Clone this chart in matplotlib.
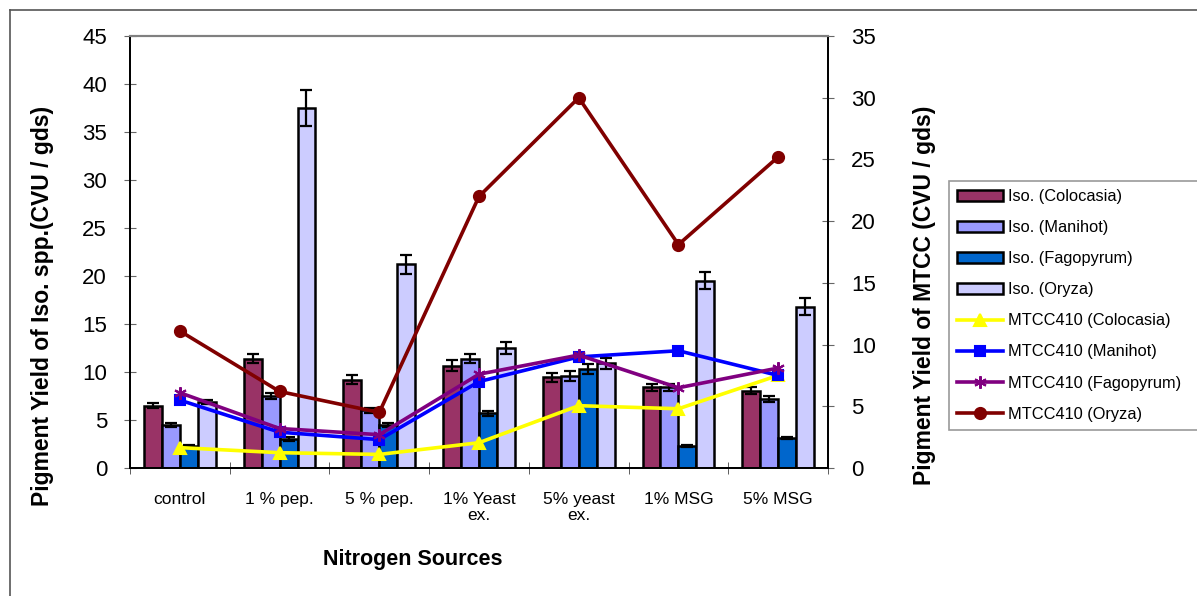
import numpy as np
import matplotlib
matplotlib.use("Agg")
import matplotlib.pyplot as plt
from matplotlib.lines import Line2D

plt.rcParams['font.family'] = ['Liberation Sans', 'DejaVu Sans']

# nitrogen sources (x categories)
sources = ['control', '1 % pep.', '5 % pep.', '1% Yeast\nex.', '5% yeast\nex.', '1% MSG', '5% MSG']

# isolates, left axis (bars) with SE
iso_colocasia = [6.5, 11.4, 9.2, 10.65, 9.45, 8.4, 8.05]
iso_manihot = [4.5, 7.5, 6.0, 11.4, 9.6, 8.4, 7.2]
iso_fagopyrum = [2.3, 3.0, 4.5, 5.7, 10.3, 2.3, 3.1]
iso_oryza = [6.9, 37.5, 21.2, 12.5, 10.9, 19.5, 16.8]
err_colocasia = [0.3, 0.5, 0.45, 0.55, 0.45, 0.35, 0.35]
err_manihot = [0.2, 0.35, 0.3, 0.5, 0.5, 0.35, 0.35]
err_fagopyrum = [0.1, 0.2, 0.2, 0.25, 0.5, 0.1, 0.1]
err_oryza = [0.2, 1.9, 1.0, 0.65, 0.55, 0.9, 0.9]

# MTCC410, right axis (lines)
mtcc_colocasia = [1.65, 1.24, 1.1, 2.05, 5.05, 4.8, 7.5]
mtcc_manihot = [5.5, 2.9, 2.3, 7.0, 9.0, 9.5, 7.5]
mtcc_fagopyrum = [6.1, 3.2, 2.7, 7.6, 9.15, 6.5, 8.1]
mtcc_oryza = [11.1, 6.2, 4.5, 22.0, 30.0, 18.1, 25.2]

W, H = 1197, 596
fig = plt.figure(figsize=(W / 100, H / 100), dpi=100)
ax = fig.add_axes([130 / W, 1 - 468 / H, 698 / W, 432 / H])
ax2 = ax.twinx()

x = np.arange(len(sources))
bw = 0.18
bars = [
    (iso_colocasia, err_colocasia, '#993366', 'Iso. (Colocasia)'),
    (iso_manihot, err_manihot, '#9999FF', 'Iso. (Manihot)'),
    (iso_fagopyrum, err_fagopyrum, '#0066CC', 'Iso. (Fagopyrum)'),
    (iso_oryza, err_oryza, '#CCCCFF', 'Iso. (Oryza)'),
]
handles = []
for i, (vals, errs, col, lab) in enumerate(bars):
    b = ax.bar(x + (i - 1.5) * bw, vals, bw, yerr=errs, color=col,
               edgecolor='black', linewidth=1.8, label=lab,
               error_kw=dict(ecolor='black', elinewidth=1.6, capsize=4, capthick=1.6))
    handles.append(b)

lines = [
    (mtcc_colocasia, '#FFFF00', '^', 'MTCC410 (Colocasia)', 8.5),
    (mtcc_manihot, '#0000FF', 's', 'MTCC410 (Manihot)', 7),
    (mtcc_fagopyrum, '#800080', (6, 2, 0), 'MTCC410 (Fagopyrum)', 9),
    (mtcc_oryza, '#800000', 'o', 'MTCC410 (Oryza)', 8),
]
for vals, col, mk, lab, ms in lines:
    l, = ax2.plot(x, vals, color=col, marker=mk, markersize=ms, linewidth=2.6,
                  markeredgecolor=col, markeredgewidth=1.5, label=lab)
    handles.append(l)

ax.set_xlim(-0.5, len(sources) - 0.5)
ax.set_ylim(0, 45)
ax2.set_ylim(0, 35)
ax.set_yticks(np.arange(0, 46, 5))
ax2.set_yticks(np.arange(0, 36, 5))

ax.set_xticks(x)
ax.set_xticklabels(sources, fontsize=12.5, multialignment='center', linespacing=1.15)
ax.set_xticks(np.arange(-0.5, len(sources), 1), minor=True)
ax.tick_params(axis='x', which='major', length=0, pad=17)
ax.tick_params(axis='x', which='minor', length=9, direction='inout', color='#444444')
ax.tick_params(axis='y', length=9, direction='inout', pad=12, labelsize=16, color='#666666')
ax2.tick_params(axis='y', length=9, direction='inout', pad=12, labelsize=16, color='#666666')

for a in (ax, ax2):
    a.spines['top'].set_color('#808080')
    a.spines['top'].set_linewidth(1.5)
    for s in ('left', 'right', 'bottom'):
        a.spines[s].set_linewidth(1.3)
        a.spines[s].set_color('black')

fig.text(43 / W, 1 - 306 / H, 'Pigment Yield of Iso. spp.(CVU / gds)', rotation=90,
         ha='center', va='center', fontsize=16.5, fontweight='bold')
fig.text(924 / W, 1 - 295 / H, 'Pigment Yield of MTCC (CVU / gds)', rotation=90,
         ha='center', va='center', fontsize=16.5, fontweight='bold')
fig.text(413 / W, 1 - 560 / H, 'Nitrogen Sources', ha='center', va='center',
         fontsize=15.5, fontweight='bold')

# legend box runs past the right edge of the figure
leg = fig.legend(handles=handles, loc='upper left',
                 bbox_to_anchor=(949 / W, 1 - 181 / H, 270 / W, 0), mode='expand',
                 fontsize=11.8, frameon=True, fancybox=False, edgecolor='#808080',
                 handlelength=2.8, handleheight=0.6, handletextpad=0.3,
                 labelspacing=0.98, borderpad=0.5, borderaxespad=0)
leg.get_frame().set_linewidth(1.2)

# outer chart border
fig.add_artist(Line2D([10 / W, 1], [1 - 10 / H, 1 - 10 / H], color='#555555', lw=1.2))
fig.add_artist(Line2D([10 / W, 10 / W], [0, 1 - 10 / H], color='#555555', lw=1.2))

fig.savefig('out.png', dpi=100)
